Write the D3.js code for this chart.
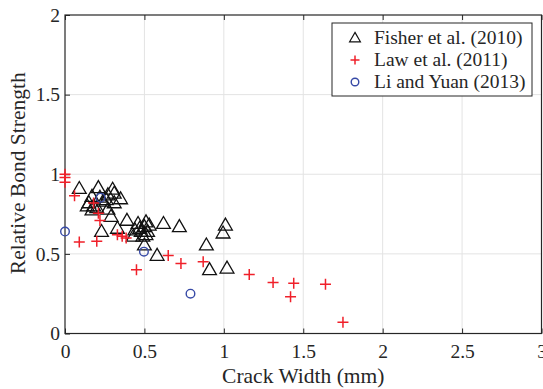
<!DOCTYPE html>
<html>
<head>
<meta charset="utf-8">
<script src="https://cdn.jsdelivr.net/npm/d3@7"></script>
<style>
  html, body { margin: 0; padding: 0; background: #fff; }
  svg { display: block; }
  text { font-family: "Liberation Serif", "Times New Roman", serif; fill: #262626; }
</style>
</head>
<body>
<svg id="chart" width="543" height="389"></svg>
<script>
// Fisher et al. (2010): crack width (mm) and relative bond strength
const fisherX = [0.09, 0.21, 0.30, 0.31, 0.35, 0.17, 0.15, 0.18, 0.14, 0.27, 0.26, 0.31, 0.17, 0.27, 0.29, 0.23,
  0.39, 0.33, 0.46, 0.51, 0.50, 0.44, 0.48, 0.43, 0.49, 0.52, 0.62, 0.72, 0.50, 0.58, 1.01, 0.995, 0.89, 0.91,
  1.02, 0.20, 0.24, 0.53, 0.47, 0.51, 0.22];
const fisherY = [0.91, 0.915, 0.905, 0.88, 0.845, 0.86, 0.82, 0.80, 0.80, 0.87, 0.84, 0.82, 0.775, 0.78, 0.735, 0.64,
  0.71, 0.66, 0.69, 0.70, 0.67, 0.65, 0.64, 0.61, 0.61, 0.64, 0.69, 0.67, 0.555, 0.49, 0.68, 0.63, 0.555, 0.40,
  0.41, 0.79, 0.83, 0.68, 0.66, 0.62, 0.855];

// Law et al. (2011)
const lawX = [0, 0, 0, 0.06, 0.09, 0.20, 0.18, 0.21, 0.22, 0.33, 0.36, 0.385, 0.45, 0.65, 0.73, 0.87, 1.16, 1.31,
  1.44, 1.42, 1.64, 1.75];
const lawY = [1.0, 0.98, 0.95, 0.865, 0.575, 0.58, 0.82, 0.755, 0.71, 0.62, 0.61, 0.60, 0.40, 0.49, 0.44, 0.45, 0.37,
  0.32, 0.315, 0.23, 0.31, 0.07];

// Li and Yuan (2013)
const liX = [0, 0.224, 0.497, 0.79];
const liY = [0.64, 0.853, 0.514, 0.25];

const xTicks = [0, 0.5, 1, 1.5, 2, 2.5, 3];
const yTicks = [0, 0.5, 1, 1.5, 2];
const xTickLabels = ["0", "0.5", "1", "1.5", "2", "2.5", "3"];
const yTickLabels = ["0", "0.5", "1", "1.5", "2"];

const seriesNames = ["Fisher et al. (2010)", "Law et al. (2011)", "Li and Yuan (2013)"];

const svg = d3.select("#chart");
const m = { left: 65, right: 541.5, top: 15, bottom: 333.5 };

const x = d3.scaleLinear().domain([0, 3]).range([m.left, m.right]);
const y = d3.scaleLinear().domain([0, 2]).range([m.bottom, m.top]);

// grid
const grid = svg.append("g").attr("stroke", "#e3e3e3").attr("stroke-width", 1);
grid.selectAll(".gx").data(xTicks.slice(1, -1)).join("line")
  .attr("x1", d => x(d)).attr("x2", d => x(d)).attr("y1", m.top).attr("y2", m.bottom);
grid.selectAll(".gy").data(yTicks.slice(1, -1)).join("line")
  .attr("y1", d => y(d)).attr("y2", d => y(d)).attr("x1", m.left).attr("x2", m.right);

// axes
const xAxis = d3.axisBottom(x).tickValues(xTicks).tickSize(-5).tickPadding(11)
  .tickFormat((d, i) => xTickLabels[i]);
const yAxis = d3.axisLeft(y).tickValues(yTicks).tickSize(-5).tickPadding(5)
  .tickFormat((d, i) => yTickLabels[i]);

function styleAxis(g) {
  g.select(".domain").remove();
  g.selectAll(".tick line").attr("stroke", "#262626").attr("stroke-width", 1);
  g.selectAll(".tick text").attr("font-size", 19.5).attr("fill", "#262626");
}
svg.append("g").attr("transform", `translate(0,${m.bottom})`).call(xAxis).call(styleAxis);
svg.append("g").attr("transform", `translate(${m.left},0)`).call(yAxis).call(styleAxis);
// top ticks
svg.append("g").attr("transform", `translate(0,${m.top})`)
  .call(d3.axisTop(x).tickValues(xTicks).tickSize(-5).tickFormat(""))
  .call(g => { g.select(".domain").remove(); g.selectAll(".tick line").attr("stroke", "#262626"); });

// frame
svg.append("rect").attr("x", m.left).attr("y", m.top)
  .attr("width", m.right - m.left).attr("height", m.bottom - m.top)
  .attr("fill", "none").attr("stroke", "#262626").attr("stroke-width", 1.2);

// axis titles
svg.append("text").attr("x", (m.left + m.right) / 2).attr("y", 383)
  .attr("text-anchor", "middle").attr("font-size", 21.5).text("Crack Width (mm)");
svg.append("text").attr("transform", `translate(25,${(m.top + m.bottom) / 2 - 1}) rotate(-90)`)
  .attr("text-anchor", "middle").attr("font-size", 21.5).text("Relative Bond Strength");

// marker shapes
const triPath = s => `M0,${-s * 0.62}L${s * 0.6},${s * 0.42}L${-s * 0.6},${s * 0.42}Z`;
const plusPath = s => `M${-s / 2},0H${s / 2}M0,${-s / 2}V${s / 2}`;

const plot = svg.append("g");

plot.selectAll(".tri").data(d3.range(fisherX.length)).join("path")
  .attr("transform", i => `translate(${x(fisherX[i])},${y(fisherY[i])})`)
  .attr("d", triPath(11.5)).attr("fill", "none").attr("stroke", "#111").attr("stroke-width", 1.3);

plot.selectAll(".plus").data(d3.range(lawX.length)).join("path")
  .attr("transform", i => `translate(${x(lawX[i])},${y(lawY[i])})`)
  .attr("d", plusPath(11)).attr("fill", "none").attr("stroke", "#f0202a").attr("stroke-width", 1.5);

plot.selectAll(".circ").data(d3.range(liX.length)).join("circle")
  .attr("cx", i => x(liX[i])).attr("cy", i => y(liY[i])).attr("r", 4.3)
  .attr("fill", "none").attr("stroke", "#3649a6").attr("stroke-width", 1.4);

// legend
const lg = svg.append("g").attr("transform", "translate(332,23)");
lg.append("rect").attr("width", 200).attr("height", 73).attr("fill", "#fff")
  .attr("stroke", "#262626").attr("stroke-width", 1);
const rows = [15, 37, 59];
lg.append("path").attr("transform", `translate(23,${rows[0]})`).attr("d", triPath(9))
  .attr("fill", "none").attr("stroke", "#111").attr("stroke-width", 1.2);
lg.append("path").attr("transform", `translate(23,${rows[1]})`).attr("d", plusPath(9))
  .attr("fill", "none").attr("stroke", "#f0202a").attr("stroke-width", 1.5);
lg.append("circle").attr("cx", 23).attr("cy", rows[2]).attr("r", 3.8)
  .attr("fill", "none").attr("stroke", "#3649a6").attr("stroke-width", 1.4);
lg.selectAll(".lt").data(seriesNames).join("text")
  .attr("x", 42).attr("y", (d, i) => rows[i]).attr("dy", "0.33em")
  .attr("font-size", 19.5).text(d => d);
</script>
</body>
</html>
